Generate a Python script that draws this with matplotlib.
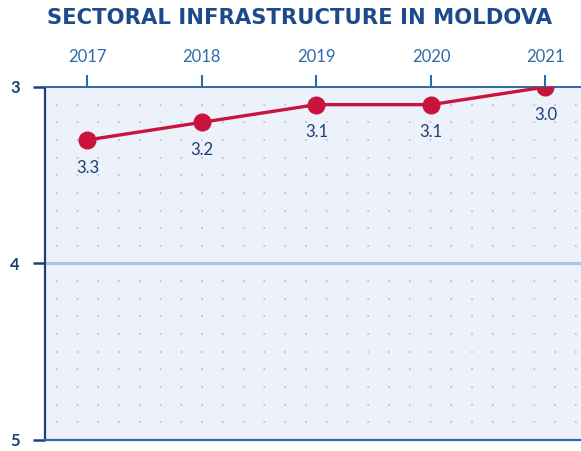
import matplotlib.pyplot as plt

# Data
years = [2017, 2018, 2019, 2020, 2021]
scores = [3.3, 3.2, 3.1, 3.1, 3.0]
score_labels = ['3.3', '3.2', '3.1', '3.1', '3.0']
y_ticks = [3, 4, 5]

navy = '#1d3f72'
blue = '#2f6aa6'
red = '#c8143c'

fig = plt.figure(figsize=(5.81, 4.51), dpi=100)
ax = fig.add_axes([0.0775, 0.0244, 0.9225, 0.7827])
ax.set_facecolor('#edf2fa')

# Dotted background grid
for y in [3 + 0.1 * i for i in range(1, 20)]:
    ax.axhline(y, color='#b8c5d6', lw=1.3, ls=(-6, (1, 10.5)), zorder=1)
ax.axhline(4, color='#a8c6e0', lw=2.2, zorder=2)

ax.plot(years, scores, color=red, lw=2.4, marker='o', markersize=12, zorder=5)
for x, y, s in zip(years, scores, score_labels):
    ax.annotate(s, (x, y), xytext=(0, -20), textcoords='offset points',
                ha='center', va='center', fontsize=12, color=navy,
                family='Lato')

ax.set_xlim(2016.63, 2021.31)
ax.set_ylim(5, 3)
ax.set_yticks(y_ticks)
ax.set_xticks(years)
ax.xaxis.tick_top()
ax.tick_params(axis='x', direction='out', length=9, width=1.5, color=blue,
               labelcolor=blue, labelsize=12, pad=7)
ax.tick_params(axis='y', direction='out', length=9, width=1.8, color=navy,
               labelcolor=navy, labelsize=12, pad=9)
for lab in ax.get_xticklabels():
    lab.set_family('Lato')
for lab in ax.get_yticklabels():
    lab.set_family('Lato')
    lab.set_fontweight('bold')

ax.spines['right'].set_visible(False)
ax.spines['left'].set_color(navy)
ax.spines['left'].set_linewidth(1.6)
ax.spines['top'].set_color(blue)
ax.spines['top'].set_linewidth(1.4)
ax.spines['bottom'].set_color(blue)
ax.spines['bottom'].set_linewidth(1.6)

fig.text(0.516, 0.96, 'SECTORAL INFRASTRUCTURE IN MOLDOVA', ha='center',
         va='center', fontsize=15.2, fontweight='bold', color='#1c4b8c',
         family='DejaVu Sans')

fig.savefig('out.png', dpi=100)
